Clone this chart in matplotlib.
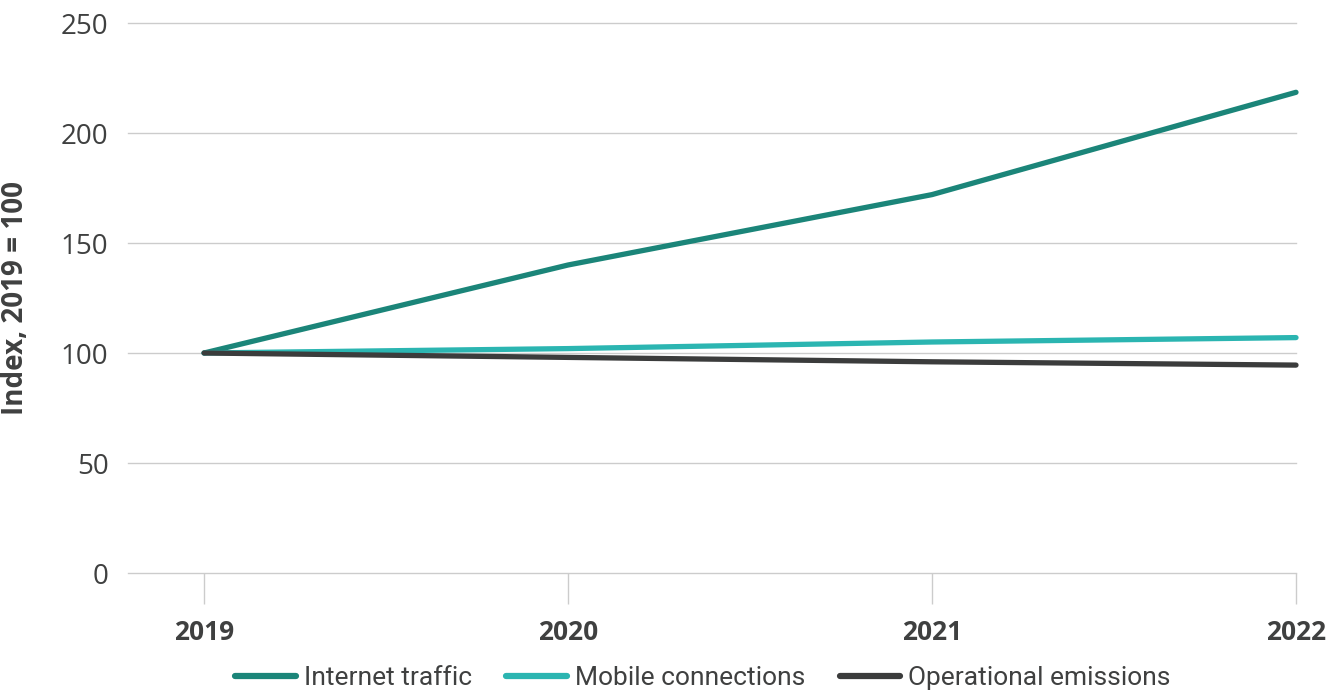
import matplotlib.pyplot as plt
import numpy as np

years = ["2019", "2020", "2021", "2022"]
internet_traffic = [100, 140, 172, 218.5]
mobile_connections = [100, 102, 105, 107]
operational_emissions = [100, 98, 96, 94.5]

colors = ["#1b8579", "#2bb5b1", "#3b3c3c"]
labels = ["Internet traffic", "Mobile connections", "Operational emissions"]

plt.rcParams['font.family'] = ['Open Sans', 'DejaVu Sans']
text_color = "#3f4040"

fig = plt.figure(figsize=(13.44, 6.92), dpi=100)
ax = fig.add_axes([128 / 1344, 1 - 573 / 692, (1296 - 128) / 1344, 550 / 692])

x = np.arange(len(years))
for vals, c, lab in zip([internet_traffic, mobile_connections, operational_emissions], colors, labels):
    ax.plot(x, vals, color=c, lw=3.8, solid_capstyle='round', label=lab, clip_on=False, zorder=3)

ax.set_xlim(-0.209, 3)
ax.set_ylim(0, 250)
ax.set_yticks([0, 50, 100, 150, 200, 250])
ax.yaxis.grid(True, color="#cccccc", lw=1)
for g in ax.get_ygridlines():
    g.set_clip_on(False)
ax.set_axisbelow(True)
for s in ax.spines.values():
    s.set_visible(False)

ax.tick_params(axis='y', length=0, pad=14, labelsize=20, labelcolor=text_color)
ax.set_xticks(x)
ax.set_xticklabels(years, fontsize=19, fontweight='bold', color=text_color)
ax.tick_params(axis='x', length=22, width=1, color="#cccccc", pad=11)

ax.set_ylabel("Index, 2019 = 100", fontsize=20, fontweight='bold', color=text_color)
ax.yaxis.set_label_coords(-0.084, 0.5)

leg = fig.legend(loc='center', bbox_to_anchor=(0.523, 0.02), ncol=3, frameon=False,
                 prop={'family': ['Roboto', 'DejaVu Sans'], 'size': 19},
                 handlelength=2.3, columnspacing=1.3, handletextpad=0.3,
                 labelcolor=text_color)
for h in leg.get_lines():
    h.set_linewidth(4.5)
    h.set_solid_capstyle('round')

fig.savefig("out.png", dpi=100)
